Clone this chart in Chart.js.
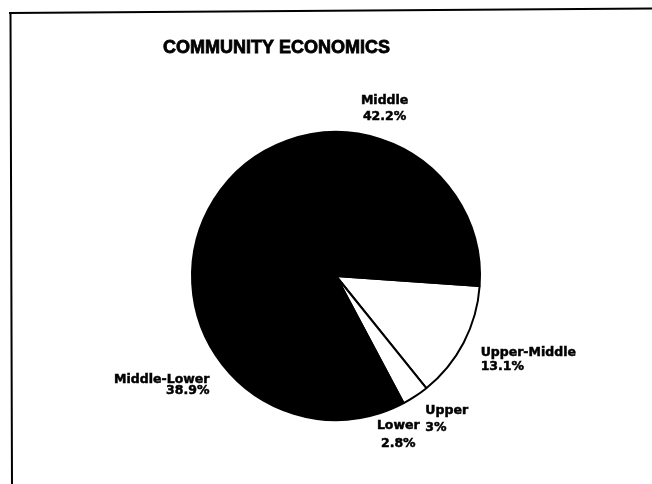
<!DOCTYPE html>
<html lang="en">
<head>
  <meta charset="UTF-8">
  <title>Community Economics</title>
  <script src="https://cdn.jsdelivr.net/npm/chart.js"></script>
  <style>
    body { margin: 0; background: #fff; }
    #wrap { position: relative; width: 652px; height: 484px; }
  </style>
</head>
<body>
  <div id="wrap"><canvas id="pieChart"></canvas></div>

  <script>
    // data, in clockwise order starting just below 3 o'clock
    const categories = ['Upper-Middle', 'Upper', 'Lower', 'Middle-Lower', 'Middle'];
    const shares = [13.1, 3, 2.8, 38.9, 42.2];
    const shareLabels = ['13.1%', '3%', '2.8%', '38.9%', '42.2%'];
    const sliceColors = ['#ffffff', '#ffffff', '#000000', '#000000', '#000000'];

    // where each label sits relative to the outer edge of its slice
    const labelPlacement = {
      'Upper-Middle': { dx: 17, dy: 10, align: 'left', gap: 14 },
      'Upper': { dx: 10, dy: 15, align: 'left', gap: 17 },
      'Lower': { dx: 6, dy: 17, align: 'center', gap: 18 },
      'Middle-Lower': { dx: -13, dy: 15, align: 'right', gap: 11 },
      'Middle': { dx: 4, dy: -38, align: 'center', gap: 16 }
    };

    const decorPlugin = {
      id: 'decor',
      afterDraw(chart) {
        const c = chart.ctx;
        c.save();
        // scanned frame (top and left edges only)
        c.strokeStyle = '#000';
        c.lineWidth = 2;
        c.beginPath();
        c.moveTo(9, 13);
        c.lineTo(652, 8.5);
        c.moveTo(10.5, 13);
        c.lineTo(12, 484);
        c.stroke();

        // title (a light stroke makes it look as heavy as the scan)
        c.fillStyle = '#000';
        c.font = 'bold 18px "Liberation Sans", Arial, sans-serif';
        c.textAlign = 'center';
        c.textBaseline = 'middle';
        c.lineWidth = 0.8;
        c.fillText('COMMUNITY ECONOMICS', 276.5, 48);
        c.strokeText('COMMUNITY ECONOMICS', 276.5, 48);

        // slice labels
        c.font = 'bold 12.5px "DejaVu Sans", sans-serif';
        c.lineWidth = 0.5;
        const meta = chart.getDatasetMeta(0);
        meta.data.forEach((arc, i) => {
          const p = arc.getProps(['x', 'y', 'startAngle', 'endAngle', 'outerRadius'], true);
          const mid = (p.startAngle + p.endAngle) / 2;
          const place = labelPlacement[categories[i]];
          const x = p.x + Math.cos(mid) * p.outerRadius + place.dx;
          const y = p.y + Math.sin(mid) * p.outerRadius + place.dy;
          c.textAlign = place.align;
          c.fillText(categories[i], x, y);
          c.strokeText(categories[i], x, y);
          c.fillText(shareLabels[i], x, y + place.gap);
          c.strokeText(shareLabels[i], x, y + place.gap);
        });
        c.restore();
      }
    };

    new Chart(document.getElementById('pieChart'), {
      type: 'pie',
      data: {
        labels: categories,
        datasets: [{
          data: shares,
          backgroundColor: sliceColors,
          borderColor: '#000',
          borderWidth: 2
        }]
      },
      options: {
        responsive: true,
        maintainAspectRatio: false,
        animation: false,
        rotation: 94,
        layout: { padding: { left: 189, right: 169, top: 131, bottom: 63 } },
        plugins: {
          legend: { display: false },
          tooltip: { enabled: false },
          title: { display: false }
        }
      },
      plugins: [decorPlugin]
    });
  </script>
</body>
</html>
